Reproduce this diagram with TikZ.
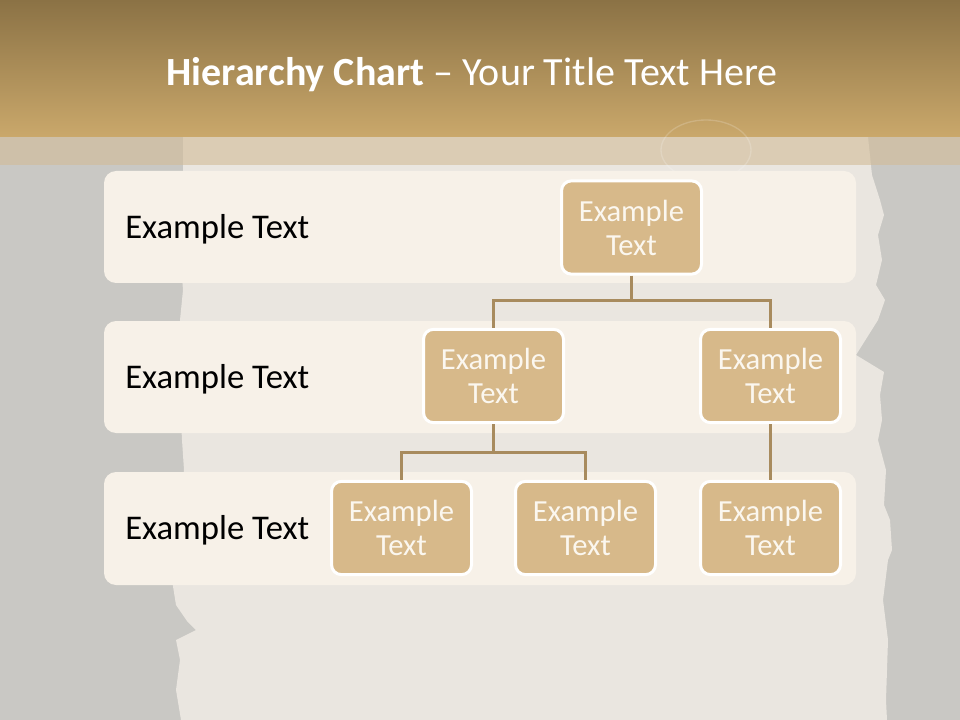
\documentclass[tikz,border=0pt]{standalone}
\usepackage{fontspec}
\setmainfont{Carlito}
\definecolor{bggray}{HTML}{C9C8C4}
\definecolor{paper}{HTML}{EAE6E0}
\definecolor{titletop}{HTML}{8B7245}
\definecolor{titlebot}{HTML}{CAA86B}
\definecolor{bandtan}{HTML}{D2BC98}
\definecolor{rowfill}{HTML}{F7F1E8}
\definecolor{nodefill}{HTML}{D7B98A}
\definecolor{linkcol}{HTML}{A88B5E}
\definecolor{nodetext}{HTML}{FBF7EF}
\tikzset{
  rowbox/.style={fill=rowfill, draw=none, rounded corners=9pt},
  rowlabel/.style={anchor=west, inner sep=0pt, font=\fontsize{26}{30}\selectfont, text=black},
  orgbox/.style={fill=nodefill, draw=white, line width=2.25pt, rounded corners=7.5pt,
    minimum width=105pt, minimum height=70pt, inner sep=0pt, align=center,
    text=nodetext, font=\fontsize{23}{25.5}\selectfont},
  link/.style={draw=linkcol, line width=2.2pt}
}
\begin{document}
\begin{tikzpicture}[x=0.75pt,y=-0.75pt]
\useasboundingbox (0,0) rectangle (960,720);
% background
\fill[bggray] (0,0) rectangle (960,720);
% torn paper
\fill[paper] (183,137) -- (868,137) -- (872,175) -- (880,200) -- (884,215) -- (878,235) -- (882,260)
  -- (876,285) -- (885,300) -- (878,320) -- (856,355) -- (884,372) -- (880,395) -- (882,420) -- (878,440)
  -- (886,470) -- (884,505) -- (890,520) -- (892,550) -- (888,560) -- (883,600) -- (888,640) -- (886,700) -- (887,720)
  -- (181,720) -- (176,690) -- (180,660) -- (176,640) -- (196,630) -- (187,621) -- (176,605) -- (172,580)
  -- (180,560) -- (183,540) -- (180,500) -- (184,470) -- (182,440) -- (180,400) -- (184,360) -- (180,320)
  -- (183,290) -- (180,250) -- (183,200) -- cycle;
% title band
\shade[top color=titletop, bottom color=titlebot] (0,0) rectangle (960,137);
\fill[bandtan, opacity=0.6] (0,137) rectangle (960,165);
\draw[white, opacity=0.18, line width=1pt] (706,150) ellipse (45 and 30);
\node[text=white, font=\fontsize{30}{34}\selectfont, inner sep=0pt] (title) at (472,75)
  {\textbf{Hierarchy Chart} – Your Title Text Here};
% rows
\fill[rowbox] (104,171) rectangle (856,283);
\fill[rowbox] (104,321) rectangle (856,433);
\fill[rowbox] (104,472) rectangle (856,585);
\node[rowlabel] (l1) at (125,229) {Example Text};
\node[rowlabel] (l2) at (125,379) {Example Text};
\node[rowlabel] (l3) at (125,530) {Example Text};
% nodes
\node[orgbox] (a) at (631.5,227.5) {Example\\Text};
\node[orgbox] (b) at (493.5,376) {Example\\Text};
\node[orgbox] (c) at (770.5,376) {Example\\Text};
\node[orgbox] (d) at (401.5,528) {Example\\Text};
\node[orgbox] (e) at (585.5,528) {Example\\Text};
\node[orgbox] (f) at (770.5,528) {Example\\Text};
% connectors
\draw[link] (a.south) -- ++(0,25) -| (b.north);
\draw[link] (a.south) ++(0,25) -| (c.north);
\draw[link] (b.south) -- ++(0,28) -| (d.north);
\draw[link] (b.south) ++(0,28) -| (e.north);
\draw[link] (c.south) -- (f.north);
\end{tikzpicture}
\end{document}
